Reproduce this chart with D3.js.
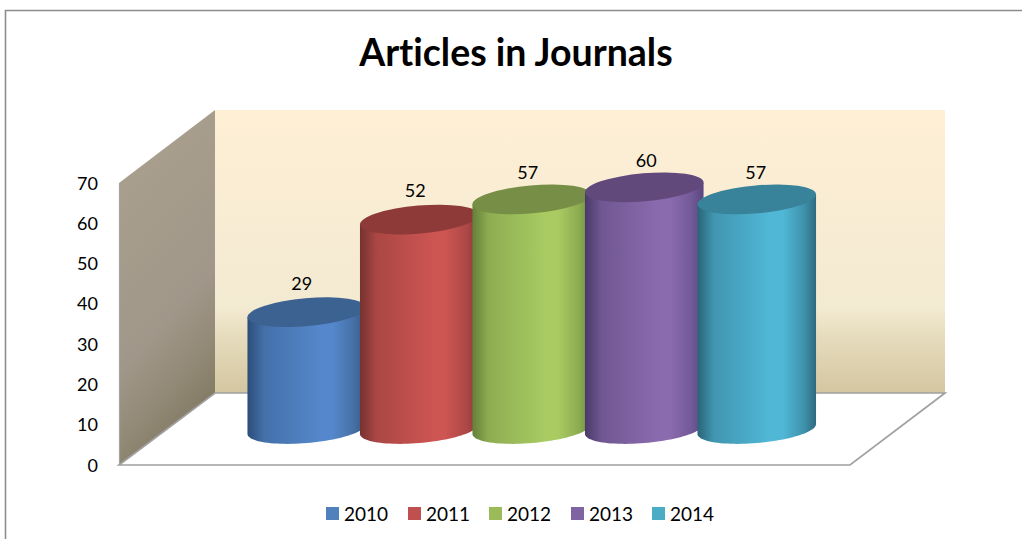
<!DOCTYPE html>
<html><head><meta charset="utf-8">
<script src="https://cdn.jsdelivr.net/npm/d3@7"></script>
<style>html,body{margin:0;padding:0;background:#fff}svg{display:block}text{font-family:Lato,"Noto Sans",sans-serif;fill:#000;font-variant-ligatures:none}</style>
</head><body><div id="c"></div>
<script>
const categories = ["2010","2011","2012","2013","2014"];
const values = [29,52,57,60,57];
const legendColors = ["#4f81bd","#c0504d","#9bbb59","#8064a2","#4bacc6"];
const bright = ["#5487cb","#cd5552","#a9cb62","#8a6bae","#50b8d6"];
const edgeL = ["#2d4d78","#753230","#65803a","#4a3a68","#2a6478"];
const edgeR = ["#35587f","#8a3a38","#6f8a40","#5a4680","#2e6a80"];
const topCol = ["#3c6291","#8e3a39","#768e45","#62497c","#38829a"];
const yTicks = [0,10,20,30,40,50,60,70];

const W=1022,H=539;
const svg=d3.select("#c").append("svg").attr("width",W).attr("height",H);
const defs=svg.append("defs");

svg.append("path").attr("d",`M5.5,${H}V10.5H${W}`).attr("fill","none").attr("stroke","#8c8c8c").attr("stroke-width",1.6);

svg.append("text").attr("x",516).attr("y",66).attr("text-anchor","middle")
  .attr("font-size",37.5).attr("font-weight",700).text("Articles in Journals");

const yFront=d3.scaleLinear().domain([0,70]).range([465,183]);
const yBack=d3.scaleLinear().domain([0,70]).range([393,110]);
const yBar=d3.scaleLinear().domain([0,70]).range([429,147]);
const x=d3.scaleBand().domain(categories).range([250.5,813]);

const gb=defs.append("linearGradient").attr("id","back").attr("x1",0).attr("y1",0).attr("x2",0).attr("y2",1);
[[0,"#feefd5"],[.7,"#f3ead2"],[.8,"#e6dcbd"],[1,"#d4c6a0"]].forEach(s=>gb.append("stop").attr("offset",s[0]).attr("stop-color",s[1]));
svg.append("rect").attr("x",215).attr("y",yBack(70)).attr("width",730).attr("height",yBack(0)-yBack(70)).attr("fill","url(#back)");

const gs=defs.append("linearGradient").attr("id","side").attr("x1",0.3).attr("y1",0).attr("x2",0.6).attr("y2",1);
[[0,"#aba08d"],[.6,"#a0978a"],[.82,"#8f8672"],[1,"#7d745d"]].forEach(s=>gs.append("stop").attr("offset",s[0]).attr("stop-color",s[1]));
svg.append("path").attr("d",`M119,${yFront(70)}L215,${yBack(70)}V${yBack(0)}L119,${yFront(0)}Z`).attr("fill","url(#side)");
svg.append("line").attr("x1",119.5).attr("x2",119.5).attr("y1",yFront(70)).attr("y2",yFront(0)).attr("stroke","#a3a3a3").attr("stroke-width",1.2);

svg.append("path").attr("d",`M119,${yFront(0)}L215,${yBack(0)}H945L850,${yFront(0)}Z`)
  .attr("fill","#fff").attr("stroke","#a0a0a0").attr("stroke-width",1.7);

const ax=svg.append("g").attr("transform","translate(98,0)")
  .call(d3.axisLeft(yFront).tickValues(yTicks).tickSize(0).tickPadding(0));
ax.select(".domain").remove();
ax.selectAll("text").attr("font-size",18).style("font-family","Lato").attr("dy","0.34em").attr("fill","#000");

const a=59.5,b=14,phi=-5*Math.PI/180;
const ell=t=>[a*Math.cos(t)*Math.cos(phi)-b*Math.sin(t)*Math.sin(phi), a*Math.cos(t)*Math.sin(phi)+b*Math.sin(t)*Math.cos(phi)];
const tR=Math.atan2(-b*Math.sin(phi),a*Math.cos(phi));
const line=d3.line();

categories.forEach((c,i)=>{
  const g=defs.append("linearGradient").attr("id","cy"+i).attr("x1",0).attr("x2",1).attr("y1",0).attr("y2",0);
  [[0,edgeL[i]],[.14,d3.interpolateRgb(edgeL[i],bright[i])(.6)],[.45,d3.interpolateRgb(edgeL[i],bright[i])(.86)],[.62,bright[i]],[.72,bright[i]],[.9,d3.interpolateRgb(edgeR[i],bright[i])(.5)],[1,edgeR[i]]]
    .forEach(s=>g.append("stop").attr("offset",s[0]).attr("stop-color",s[1]));
});

const cxOf=i=>x(categories[i])+x.bandwidth()/2;
const bars=svg.selectAll("g.bar").data(values).join("g").attr("class","bar");
bars.append("path").attr("fill",(d,i)=>`url(#cy${i})`).attr("d",(d,i)=>{
  const cx=cxOf(i), yt=yBar(d), yb=yBar(0), pts=[];
  d3.range(0,49).forEach(k=>{const p=ell(tR+Math.PI*k/48);pts.push([cx+p[0],yb+p[1]]);});
  const L=ell(tR+Math.PI),R=ell(tR);
  pts.push([cx+L[0],yt+L[1]],[cx+R[0],yt+R[1]]);
  return line(pts)+"Z";
});
bars.append("ellipse").attr("rx",a).attr("ry",b).attr("fill",(d,i)=>topCol[i])
  .attr("transform",(d,i)=>`translate(${cxOf(i)},${yBar(d)}) rotate(${phi*180/Math.PI})`);
const labelDx=[-5,-4,-4,2,-1];
const labelDy=[-22,-23,-20,-20,-20];
bars.append("text").attr("x",(d,i)=>cxOf(i)+labelDx[i]).attr("y",(d,i)=>yBar(d)+labelDy[i])
  .attr("text-anchor","middle").attr("font-size",18).text(d=>d);

const legX=[326,408,489,571,652];
const lg=svg.selectAll("g.leg").data(categories).join("g").attr("class","leg").attr("transform",(d,i)=>`translate(${legX[i]},507)`);
lg.append("rect").attr("width",13).attr("height",13).attr("fill",(d,i)=>legendColors[i]);
lg.append("text").attr("x",18).attr("y",13.5).attr("font-size",19).text(d=>d);
</script></body></html>
